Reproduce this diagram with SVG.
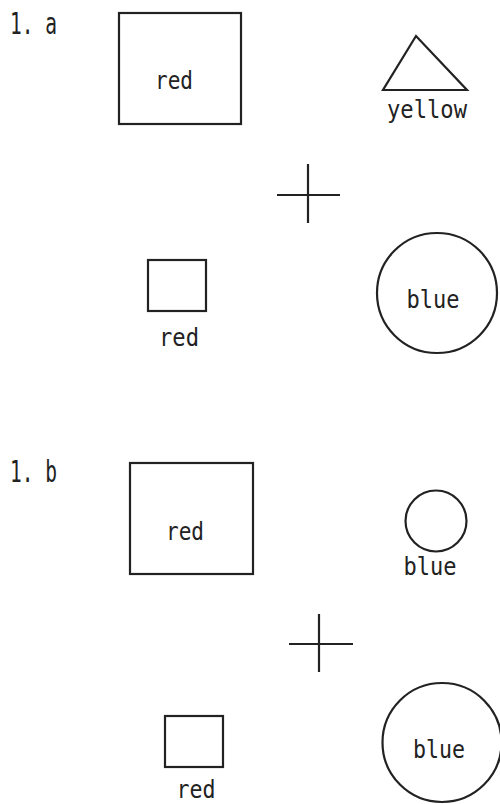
<svg xmlns="http://www.w3.org/2000/svg" width="500" height="804" viewBox="0 0 500 804">
<style>
.s{fill:none;stroke:#222;stroke-width:2.2}
.t{font-family:"DejaVu Sans Mono","Liberation Mono",monospace;font-size:25px;fill:#222;text-anchor:middle}
.h{font-family:"DejaVu Sans Mono","Liberation Mono",monospace;font-size:30px;fill:#222}
</style>
<rect width="500" height="804" fill="#fff"/>
<g id="label-1a"><text class="h" x="10" y="34" textLength="47" lengthAdjust="spacingAndGlyphs">1. a</text></g>
<g id="a-big-square"><rect class="s" x="119" y="13" width="122" height="111"/><text class="t" x="174" y="89" textLength="38" lengthAdjust="spacingAndGlyphs">red</text></g>
<g id="a-triangle"><polygon class="s" points="416,36 383,90 467,90"/><text class="t" x="427" y="118" textLength="80" lengthAdjust="spacingAndGlyphs">yellow</text></g>
<g id="a-plus"><line class="s" x1="277" y1="195" x2="340" y2="195"/><line class="s" x1="308" y1="164" x2="308" y2="223"/></g>
<g id="a-small-square"><rect class="s" x="148" y="260" width="58" height="51"/><text class="t" x="179" y="346" textLength="40" lengthAdjust="spacingAndGlyphs">red</text></g>
<g id="a-circle"><circle class="s" cx="437" cy="293" r="60"/><text class="t" x="433" y="308" textLength="53" lengthAdjust="spacingAndGlyphs">blue</text></g>
<g id="label-1b"><text class="h" x="10" y="482" textLength="47" lengthAdjust="spacingAndGlyphs">1. b</text></g>
<g id="b-big-square"><rect class="s" x="130" y="463" width="123" height="111"/><text class="t" x="185" y="540" textLength="38" lengthAdjust="spacingAndGlyphs">red</text></g>
<g id="b-small-circle"><circle class="s" cx="436" cy="521" r="30.5"/><text class="t" x="430" y="575" textLength="53" lengthAdjust="spacingAndGlyphs">blue</text></g>
<g id="b-plus"><line class="s" x1="289" y1="644" x2="353" y2="644"/><line class="s" x1="319" y1="614" x2="319" y2="672"/></g>
<g id="b-small-square"><rect class="s" x="165" y="716" width="58" height="51"/><text class="t" x="196" y="798" textLength="39" lengthAdjust="spacingAndGlyphs">red</text></g>
<g id="b-circle"><circle class="s" cx="442" cy="742.5" r="59.5"/><text class="t" x="439" y="758" textLength="52" lengthAdjust="spacingAndGlyphs">blue</text></g>
</svg>
